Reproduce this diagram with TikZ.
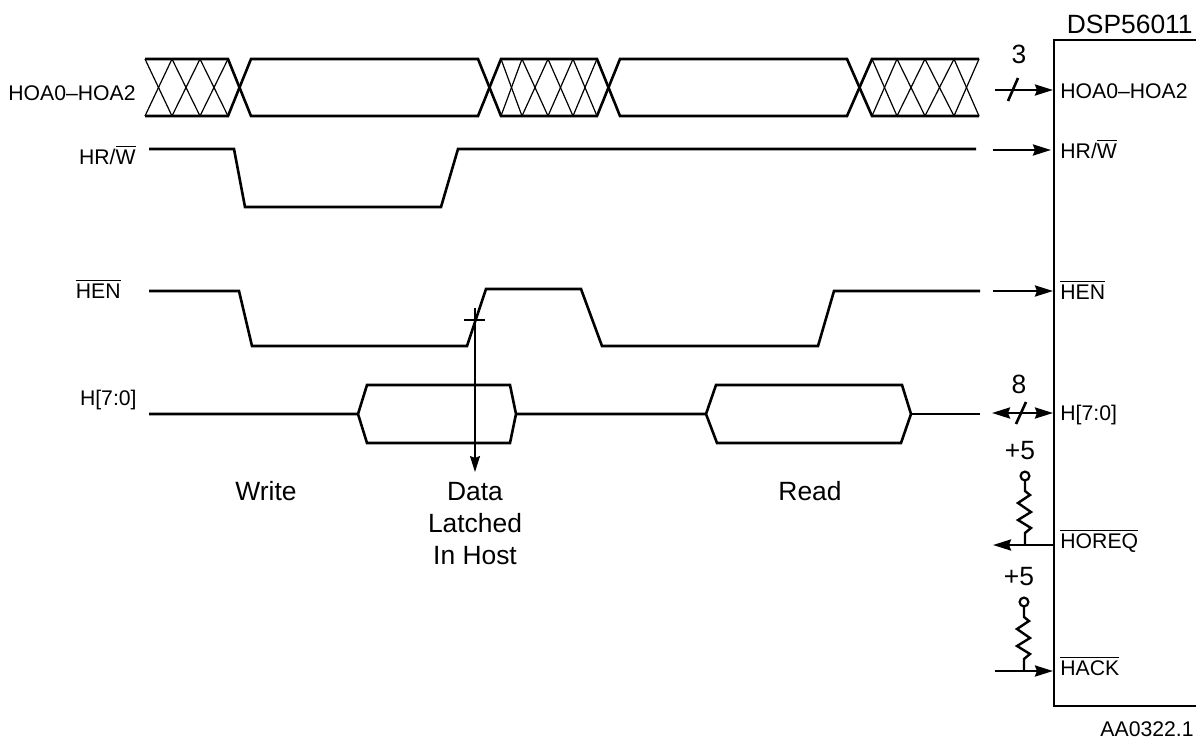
\documentclass[tikz,border=0pt]{standalone}
\usepackage{fontspec}
\setmainfont{Liberation Sans}
\usetikzlibrary{arrows.meta}
\tikzset{
	wave/.style={line width=1.3pt, line join=miter},
	hatchline/.style={line width=0.6pt},
	pin/.style={line width=1.3pt, -{Stealth[length=9pt,width=5.5pt,inset=1pt]}},
	biglabel/.style={font=\fontsize{13.2}{16}\selectfont, align=center, inner sep=0pt},
	smalllabel/.style={font=\fontsize{10.6}{12}\selectfont, inner sep=0pt}
}
\newcommand{\bartext}[1]{$\overline{\mbox{#1}}$}
\newcommand{\hatchcell}[2] % x left, x right of one crossing
{
	\draw[hatchline] (#1,59) -- (#2,116);
	\draw[hatchline] (#2,59) -- (#1,116);
}
\newcommand{\pullup}[3] % name, x, y of the wire it ends on
{
	% contact
	\draw[line width=1.1pt] (#2,#3-69) circle (2.2pt);
	% resistor
	\draw[line width=1.2pt, line join=miter] (#2,#3-64) -- (#2,#3-54) -- (#2+5,#3-50) -- (#2-7,#3-42)
		-- (#2+6,#3-33) -- (#2-7,#3-25) -- (#2+6,#3-17) -- (#2,#3-12) -- (#2,#3);
	\node[biglabel] (#1) at (#2-5,#3-94) {+5};
}
\begin{document}
\begin{tikzpicture}[x=0.5pt, y=-0.5pt]
	% 1196 x 740, same unit as the page pixels
	\useasboundingbox (0, 0) rectangle (1196, 740);
	% address bus
	\draw[wave] (145,59) -- (228,59) -- (251,116) -- (478,116) -- (501,59) -- (597,59) -- (620,116) -- (847,116) -- (872,59) -- (979,59);
	\draw[wave] (145,116) -- (228,116) -- (251,59) -- (478,59) -- (501,116) -- (597,116) -- (620,59) -- (847,59) -- (872,116) -- (979,116);
	\hatchcell{145}{172};
	\hatchcell{172}{200};
	\hatchcell{200}{228};
	
	\hatchcell{501}{522};
	\hatchcell{522}{548};
	\hatchcell{548}{573};
	\hatchcell{573}{597};
	
	\hatchcell{872}{897};
	\hatchcell{897}{925};
	\hatchcell{925}{954};
	\hatchcell{954}{979};
	
	% read/write
	\draw[wave] (149,149) -- (234,149) -- (245,207) -- (441,207) -- (458,149) -- (976,149);
	
	% enable
	\draw[wave] (149,291) -- (239,291) -- (252,346) -- (467,346) -- (486,289) -- (581,289) -- (602,346) -- (818,346) -- (834,291) -- (980,291);
	
	% data bus
	\draw[wave] (149,414) -- (358,414) -- (367,385) -- (510,385) -- (516,414) -- (510,443) -- (367,443) -- (358,414);
	\draw[wave] (516,414) -- (706,414) -- (716,385) -- (902,385) -- (911,414) -- (901,443) -- (717,443) -- (706,414);
	\draw[wave] (911,414) -- (980,414);
	
	% latch marker
	\coordinate (latchtop) at (475,308);
	\coordinate (latchend) at (475,472);
	\coordinate (tickleft) at (464,320);
	\coordinate (tickright) at (485,320);
	\draw[line width=0.6pt] (tickleft) -- (tickright);
	\draw[line width=0.7pt, -{Stealth[length=8pt,width=5pt,inset=1pt]}] (latchtop) -- (latchend);
	
	% chip outline
	\draw[line width=1.3pt] (1196,40) -- (1054,40) -- (1054,706) -- (1196,706);
	\node[biglabel, anchor=base east] (chip) at (1193,33) {DSP56011};
	
	% pins
	\coordinate (hoasrc) at (995,90);
	\coordinate (hoadst) at (1053,90);
	\coordinate (hrwsrc) at (993,150);
	\coordinate (hrwdst) at (1051,150);
	\coordinate (hensrc) at (993,291);
	\coordinate (hendst) at (1053,291);
	\coordinate (hdsrc) at (992,413);
	\coordinate (hddst) at (1053,413);
	\coordinate (reqsrc) at (1054,545);
	\coordinate (reqdst) at (993,545);
	\coordinate (acksrc) at (995,671);
	\coordinate (ackdst) at (1053,671);
	\draw[pin] (hoasrc) -- (hoadst);
	\draw[pin] (hrwsrc) -- (hrwdst);
	\draw[pin] (hensrc) -- (hendst);
	\draw[line width=1.3pt, {Stealth[length=9pt,width=5.5pt,inset=1pt]}-{Stealth[length=9pt,width=5.5pt,inset=1pt]}] (hdsrc) -- (hddst);
	\draw[pin] (reqsrc) -- (reqdst);
	\draw[pin] (acksrc) -- (ackdst);
	\draw[line width=1.3pt] (1008,101) -- (1018,78);
	\draw[line width=1.3pt] (1016,424) -- (1026,402);
	\node[biglabel] (hoacount) at (1019,54) {3};
	\node[biglabel] (hdcount) at (1019,384) {8};
	\pullup{reqvcc}{1025}{545}
	\pullup{ackvcc}{1024}{671}
	
	% labels inside the chip
	\node[smalllabel, anchor=base west] (hoain) at (1060,98) {HOA0–HOA2};
	\node[smalllabel, anchor=base west] (hrwin) at (1060,158) {HR/\bartext{W}};
	\node[smalllabel, anchor=base west] (henin) at (1060,299) {\bartext{HEN}};
	\node[smalllabel, anchor=base west] (hdin) at (1060,420) {H[7:0]};
	\node[smalllabel, anchor=base west] (reqin) at (1060,548) {\bartext{HOREQ}};
	\node[smalllabel, anchor=base west] (ackin) at (1060,675) {\bartext{HACK}};
	
	% labels at the left
	\node[smalllabel, anchor=base east] (hoaout) at (136,100) {HOA0–HOA2};
	\node[smalllabel, anchor=base east] (hrwout) at (136,164) {HR/\bartext{W}};
	\node[smalllabel, anchor=base east] (henout) at (121,298) {\bartext{HEN}};
	\node[smalllabel, anchor=base east] (hdout) at (137,405) {H[7:0]};
	
	% phases
	\node[biglabel] (write) at (266,491) {Write};
	\node[biglabel] (latched) at (475,524) {Data\\Latched\\In Host};
	\node[biglabel] (read) at (810,491) {Read};
	\node[smalllabel, anchor=base east] (figid) at (1194,736) {AA0322.1};
\end{tikzpicture}
\end{document}
